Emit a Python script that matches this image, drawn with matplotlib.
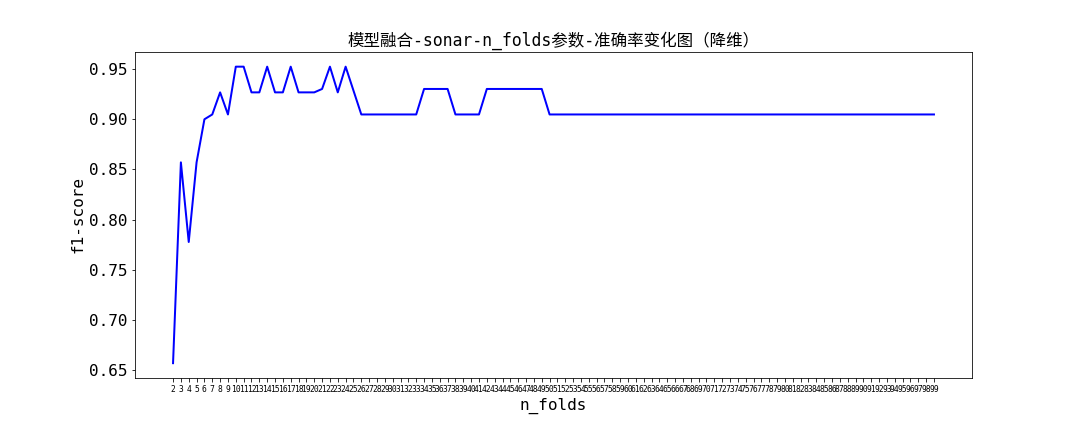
import matplotlib
matplotlib.use('Agg')
import matplotlib.pyplot as plt

# monospace latin + CJK fallback, close to the SimHei look of the original
plt.rcParams['font.family'] = ['DejaVu Sans Mono', 'Noto Sans CJK SC']
plt.rcParams['axes.unicode_minus'] = False

n_folds = list(range(2, 100))
f1_head = [0.6571, 0.8571, 0.7778, 0.8571, 0.9000, 0.9048, 0.9268, 0.9048,
           0.9524, 0.9524, 0.9268, 0.9268, 0.9524, 0.9268, 0.9268, 0.9524,
           0.9268, 0.9268, 0.9268, 0.9302, 0.9524, 0.9268, 0.9524, 0.9286,
           0.9048, 0.9048, 0.9048, 0.9048, 0.9048, 0.9048, 0.9048, 0.9048,
           0.9302, 0.9302, 0.9302, 0.9302, 0.9048, 0.9048, 0.9048, 0.9048,
           0.9302, 0.9302, 0.9302, 0.9302, 0.9302, 0.9302, 0.9302, 0.9302]
f1_tail = [0.9048] * (len(n_folds) - len(f1_head))
f1_score = f1_head + f1_tail

fig = plt.figure(figsize=(15, 6), dpi=72)
fig.subplots_adjust(left=0.125, right=0.9, top=0.88, bottom=0.125)
ax = fig.add_subplot(111)
ax.plot(n_folds, f1_score, color='blue', linewidth=2)
ax.set_xticks(n_folds)
ax.set_xticklabels([str(i) for i in n_folds], fontsize=8)
ax.tick_params(axis='y', labelsize=16)
ax.set_xlabel('n_folds', fontsize=16)
ax.set_ylabel('f1-score', fontsize=16)
ax.set_title('模型融合-sonar-n_folds参数-准确率变化图（降维）', fontsize=16.5)
plt.savefig('out.png', dpi=72)
